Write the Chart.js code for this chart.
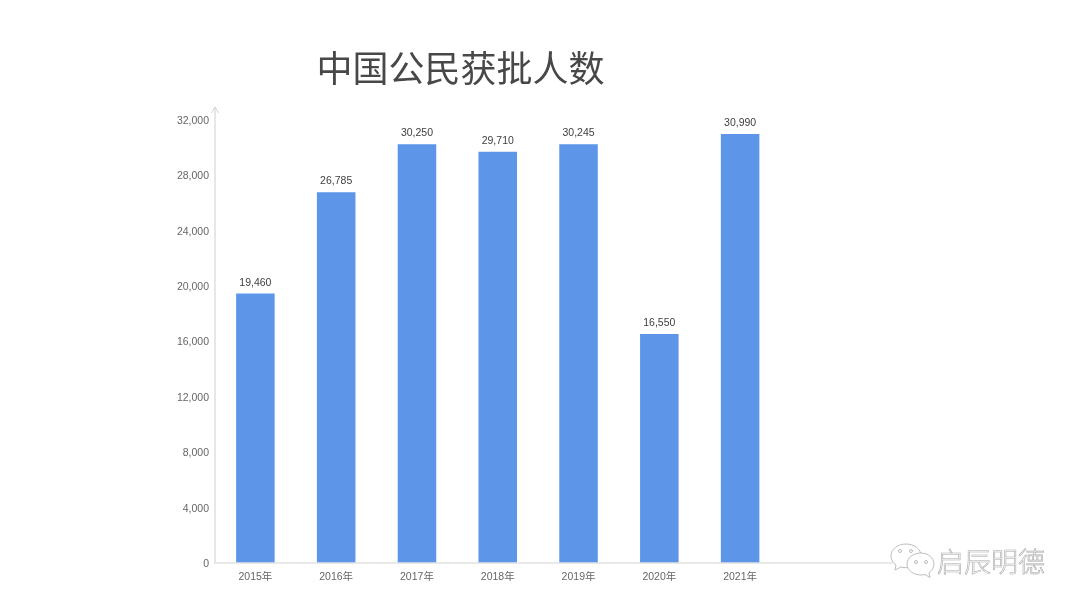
<!DOCTYPE html>
<html lang="zh">
<head>
<meta charset="utf-8">
<style>
html,body{margin:0;padding:0;background:#fff;width:1080px;height:608px;overflow:hidden}
#wrap{position:relative;width:1080px;height:608px}
#c{position:absolute;left:0;top:0}
#title{position:absolute;left:260.500px;top:40px;width:400px;text-align:center;font:400 36px/52px "Noto Sans CJK SC","DejaVu Sans",sans-serif;color:#484848;white-space:nowrap}
#mark{position:absolute;left:937px;top:542px;font:300 27px/38px "Noto Sans CJK SC",sans-serif;color:#fff;-webkit-text-stroke:.6px #a8a8a8;white-space:nowrap}
#icon{position:absolute;left:888px;top:540px}
</style>
</head>
<body>
<div id="wrap">
<canvas id="c" width="1080" height="608"></canvas>
<div id="title">中国公民获批人数</div>
<svg id="icon" width="50" height="40" viewBox="0 0 50 40" fill="#fff" stroke="#bdbdbd" stroke-width="1">
<path d="M18 4c-8 0-15 5-15 12 0 4 2 7 5 9l-1 5 6-3c2 .6 4 .8 6 .7 5-.5 14-6 14-12C33 9 26 4 18 4z"/>
<path d="M33 13c-8 0-14 5-14 11s6 11 14 11c1.500 0 3-.2 4-.5l5 3-1-5c3-2 5-5 5-8.500C46 18 40 13 33 13z"/>
<circle cx="12" cy="11" r="1.500"/><circle cx="23" cy="11" r="1.500"/>
<circle cx="28" cy="22" r="1.500"/><circle cx="38" cy="22" r="1.500"/>
</svg>
<div id="mark">启辰明德</div>
</div>
<script src="https://cdn.jsdelivr.net/npm/chart.js@4"></script>
<script>
const categories = ["2015年","2016年","2017年","2018年","2019年","2020年","2021年"];
const approvals = [19460,26785,30250,29710,30245,16550,30990];
const yTicks = [0,4000,8000,12000,16000,20000,24000,28000,32000];

const fmt = v => v.toLocaleString("en-US");

const decor = {
  id: "decor",
  afterDatasetsDraw(chart) {
    const ctx = chart.ctx, a = chart.chartArea;
    ctx.save();
    // bar value labels
    ctx.font = '10.5px "Liberation Sans", Arial, sans-serif';
    ctx.fillStyle = "#404040";
    ctx.textAlign = "center";
    ctx.textBaseline = "alphabetic";
    chart.getDatasetMeta(0).data.forEach((bar, i) => {
      ctx.fillText(fmt(approvals[i]), bar.x, bar.y - 8);
    });
    // extended axes with arrow
    ctx.strokeStyle = "#e2e2e2";
    ctx.lineWidth = 1.6;
    ctx.beginPath();
    ctx.moveTo(a.left, a.top - 13);
    ctx.lineTo(a.left, a.bottom);
    ctx.lineTo(a.right + 112, a.bottom);
    ctx.stroke();
    ctx.strokeStyle = "#d4d4d4";
    ctx.lineWidth = 1;
    ctx.beginPath();
    ctx.moveTo(a.left - 3.500, a.top - 7);
    ctx.lineTo(a.left, a.top - 13);
    ctx.lineTo(a.left + 3.500, a.top - 7);
    ctx.stroke();
    ctx.restore();
  }
};

new Chart(document.getElementById("c"), {
  type: "bar",
  data: {
    labels: categories,
    datasets: [{
      data: approvals,
      backgroundColor: "#5d96e8",
      borderWidth: 0,
      barPercentage: 0.477,
      categoryPercentage: 1
    }]
  },
  options: {
    responsive: false,
    animation: false,
    devicePixelRatio: 1,
    layout: { padding: { left: 0, right: 299.5, top: 120, bottom: 0 } },
    plugins: { legend: { display: false }, title: { display: false }, tooltip: { enabled: false } },
    scales: {
      x: {
        grid: { display: false, drawTicks: false },
        border: { display: false },
        afterFit(s) { s.height = 45; },
        ticks: {
          color: "#666666",
          padding: 8,
          maxRotation: 0,
          font: { size: 10.5, family: '"Liberation Sans", "Noto Sans CJK SC", sans-serif' }
        }
      },
      y: {
        min: 0,
        max: 32000,
        grid: { display: false, drawTicks: false },
        border: { display: false },
        afterFit(s) { s.width = 215; },
        afterBuildTicks(s) { s.ticks = yTicks.map(v => ({ value: v })); },
        ticks: {
          color: "#666666",
          padding: 6,
          labelOffset: 1,
          font: { size: 10.5, family: '"Liberation Sans", Arial, sans-serif' },
          callback: v => fmt(v)
        }
      }
    }
  },
  plugins: [decor]
});
</script>
</body>
</html>
